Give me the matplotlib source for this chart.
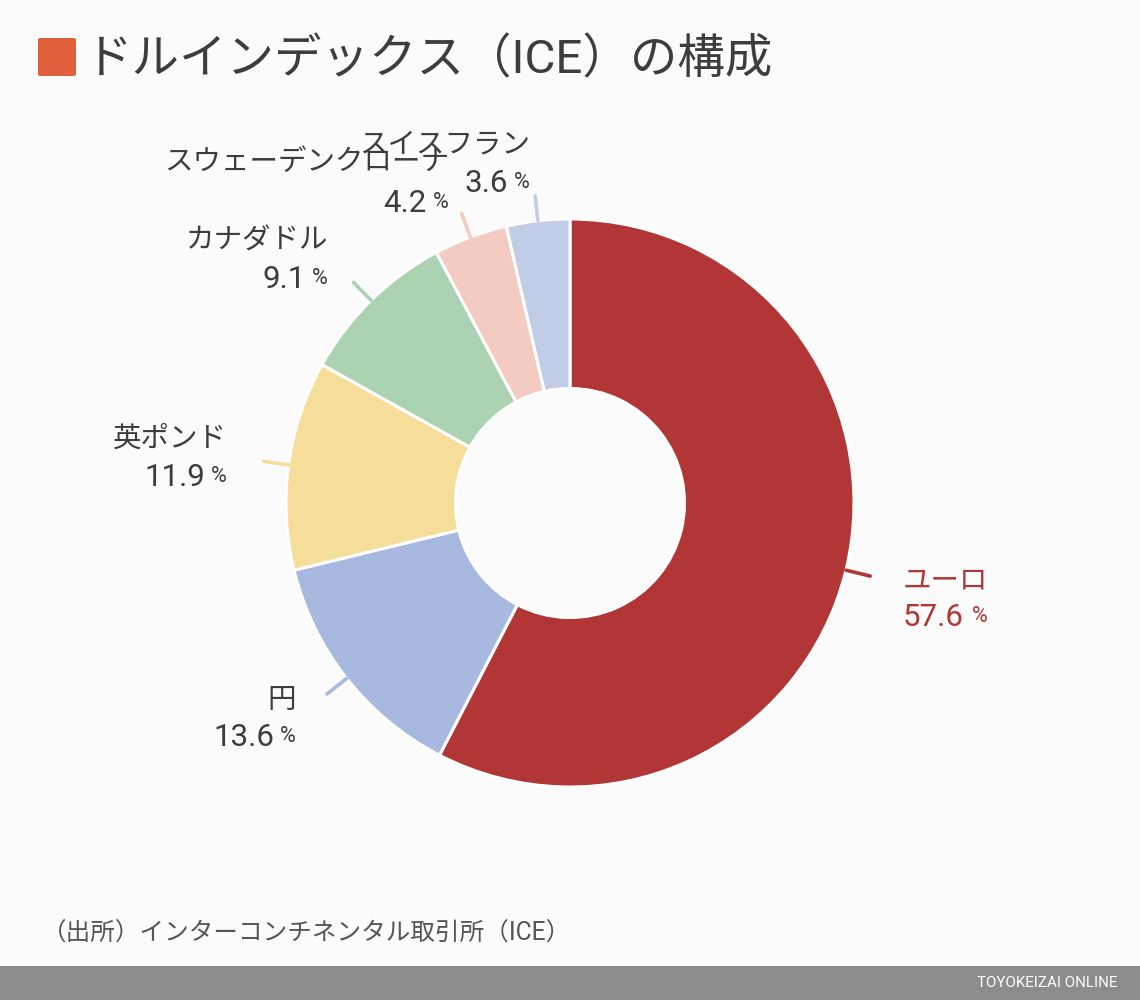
import numpy as np
import matplotlib
matplotlib.use("Agg")
import matplotlib.pyplot as plt
from matplotlib.patches import Rectangle, FancyBboxPatch

plt.rcParams['font.family'] = ['Roboto', 'Noto Sans CJK JP', 'DejaVu Sans']

names = ["ユーロ", "円", "英ポンド", "カナダドル", "スウェーデンクローナ", "スイスフラン"]
shares = [57.6, 13.6, 11.9, 9.1, 4.2, 3.6]
colors = ["#b33636", "#a8b9e0", "#f6de9a", "#abd3b1", "#f4cbc1", "#c1cde6"]

title = "ドルインデックス（ICE）の構成"
source = "（出所）インターコンチネンタル取引所（ICE）"
credit = "TOYOKEIZAI ONLINE"

# label places in pixels: right edge, name centre y, value centre y
label_x = [988, 296, 227, 328, 449, 530]
name_y = [581, 700, 439, 241, 163, 145]
value_y = [618, 737, 478, 279, 203, 183]

W, H = 1140, 1000
BG = "#fbfbfb"
TEXT = "#3d3d3d"
cx, cy = 570, H - 503
R = 284
r_in = 114.5

fig = plt.figure(figsize=(W / 100, H / 100), dpi=100, facecolor=BG)
ax = fig.add_axes([0, 0, 1, 1])
ax.pie(shares, colors=colors, startangle=90, counterclock=False,
       center=(cx, cy), radius=R, frame=False,
       wedgeprops=dict(width=R - r_in, edgecolor="white", linewidth=2.2))
ax.set_xlim(0, W)
ax.set_ylim(0, H)
ax.set_aspect("auto")
ax.axis("off")

# short tick out of the middle of each slice
cum = np.cumsum(shares) - np.array(shares) / 2
for i in range(len(shares)):
    a = np.radians(cum[i] * 3.6)
    ax.plot([cx + R * np.sin(a), cx + (R + 25) * np.sin(a)],
            [cy + R * np.cos(a), cy + (R + 25) * np.cos(a)],
            color=colors[i], lw=2.6, solid_capstyle="round", zorder=1)

for i in range(len(names)):
    c = colors[0] if i == 0 else TEXT
    ax.text(label_x[i], H - name_y[i], names[i], ha="right", va="center",
            fontsize=20.5, color=c)
    off = 24 if i == 0 else 22
    ax.text(label_x[i] - off, H - value_y[i], f"{shares[i]}", ha="right", va="center",
            fontsize=22.5, color=c)
    ax.text(label_x[i], H - value_y[i] + 1, "%", ha="right", va="center",
            fontsize=15.5, color=c)

# title block
ax.add_patch(FancyBboxPatch((38, H - 76), 38, 38, boxstyle="round,pad=0,rounding_size=2",
                            fc="#e0603c", ec="none"))
ax.text(85, H - 60, title, ha="left", va="center", fontsize=34.2, color=TEXT)

ax.text(42, H - 933, source, ha="left", va="center", fontsize=17.7, color="#555555")

# footer band
ax.add_patch(Rectangle((0, 0), W, 34, fc="#8c8c8c", ec="none"))
ax.text(1117, 17, credit, ha="right", va="center", fontsize=10.9, color="white")

fig.savefig("out.png", dpi=100, facecolor=BG)
